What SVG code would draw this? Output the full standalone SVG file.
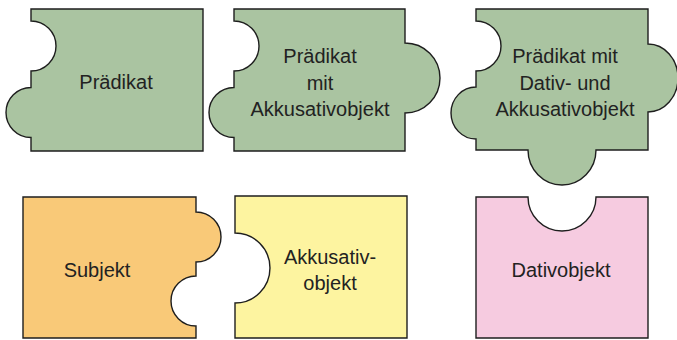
<svg xmlns="http://www.w3.org/2000/svg" width="677" height="340" viewBox="0 0 677 340">
<style>
.p{stroke:#1e1e1e;stroke-width:1.4;stroke-linejoin:miter}
.g{fill:#aac4a1}
.o{fill:#f9c978}
.y{fill:#fdf4a0}
.k{fill:#f6cbe0}
text{font-family:"Liberation Sans",Arial,sans-serif;font-size:20px;fill:#222;text-anchor:middle}
</style>
<rect width="677" height="340" fill="#ffffff"/>
<g id="node-praedikat">
<path class="p g" d="M31,9 H203 V151 H31 V137.5 A25,25 0 0 1 31,87.5 V71 A25,25 0 0 0 31,21 Z"/>
<text x="116" y="89">Prädikat</text>
</g>
<g id="node-praedikat-akk">
<path class="p g" d="M234,9 H405 V43 A35,35 0 0 1 405,113 V151 H234 V137.5 A25,25 0 0 1 234,87.5 V71 A25,25 0 0 0 234,21 Z"/>
<text x="320" y="63">Prädikat</text>
<text x="320" y="90">mit</text>
<text x="320" y="116">Akkusativobjekt</text>
</g>
<g id="node-praedikat-dat-akk">
<path class="p g" d="M476,9 H648 V44 A30,34 0 0 1 648,112 V150 H596 A34,35 0 0 1 528,150 H476 V139 A25,26 0 0 1 476,87 V71 A25,25 0 0 0 476,21 Z"/>
<text x="565" y="63">Prädikat mit</text>
<text x="565" y="90">Dativ- und</text>
<text x="565" y="116">Akkusativobjekt</text>
</g>
<g id="node-subjekt">
<path class="p o" d="M23,197 H196 V212 A25,25 0 0 1 196,262 V276 A25,25 0 0 0 196,326 V338 H23 Z"/>
<text x="97" y="277">Subjekt</text>
</g>
<g id="node-akkusativobjekt">
<path class="p y" d="M235,196 H407 V338 H235 V303 A35,35 0 0 0 235,233 Z"/>
<text x="330" y="264">Akkusativ-</text>
<text x="330" y="290">objekt</text>
</g>
<g id="node-dativobjekt">
<path class="p k" d="M476,197 H528 A34,34 0 0 0 596,197 H648 V338 H476 Z"/>
<text x="561" y="277">Dativobjekt</text>
</g>
<g id="connectors"></g>
</svg>
